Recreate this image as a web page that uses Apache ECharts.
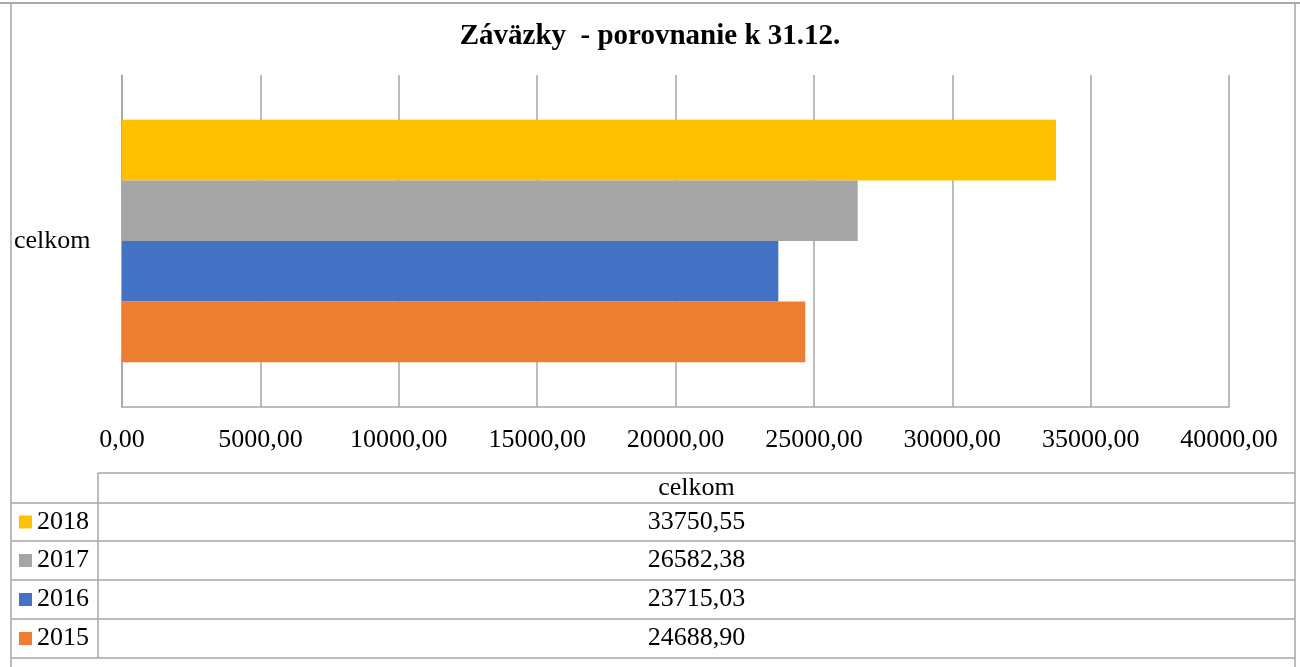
<!DOCTYPE html>
<html>
<head>
<meta charset="utf-8">
<title>Záväzky - porovnanie k 31.12.</title>
<script src="https://cdn.jsdelivr.net/npm/echarts@6/dist/echarts.min.js"></script>
<style>
  html, body { margin: 0; padding: 0; background: #fff; }
  #chart { width: 1300px; height: 667px; }
</style>
</head>
<body>
<div id="chart"></div>
<script>
  // data (top bar / top table row first)
  const categories = ['celkom']
  const years = ['2018', '2017', '2016', '2015']
  const values2018 = [33750.55]
  const values2017 = [26582.38]
  const values2016 = [23715.03]
  const values2015 = [24688.90]
  const axisMax = 40000
  const axisStep = 5000

  const seriesValues = [values2018, values2017, values2016, values2015]
  const colors = ['#FFC000', '#A5A5A5', '#4472C4', '#ED7D31']

  const font = "'Liberation Serif', 'Times New Roman', serif"
  const lineColor = '#a6a6a6'

  function fmt(v) {
    return v.toFixed(2).replace('.', ',')
  }

  // table layout (rows from top: header, 2018, 2017, 2016, 2015)
  const tableLeft = 11
  const tableRight = 1295
  const colSplit = 98
  const headerTop = 473
  const rowLines = [503, 541, 580, 619, 658]

  const graphics = []
  // outer frame
  graphics.push({ type: 'line', shape: { x1: 0, y1: 3, x2: 1300, y2: 3 }, style: { stroke: '#8c8c8c', lineWidth: 1.5 } })
  graphics.push({ type: 'line', shape: { x1: tableLeft, y1: 3, x2: tableLeft, y2: 667 }, style: { stroke: lineColor, lineWidth: 1.5 } })
  graphics.push({ type: 'line', shape: { x1: tableRight, y1: 3, x2: tableRight, y2: 667 }, style: { stroke: lineColor, lineWidth: 1.5 } })
  // table grid
  graphics.push({ type: 'line', shape: { x1: colSplit, y1: headerTop, x2: tableRight, y2: headerTop }, style: { stroke: lineColor, lineWidth: 1.5 } })
  graphics.push({ type: 'line', shape: { x1: colSplit, y1: headerTop, x2: colSplit, y2: rowLines[rowLines.length - 1] }, style: { stroke: lineColor, lineWidth: 1.5 } })
  rowLines.forEach(y => {
    graphics.push({ type: 'line', shape: { x1: tableLeft, y1: y, x2: tableRight, y2: y }, style: { stroke: lineColor, lineWidth: 1.5 } })
  })
  const cellCenter = (colSplit + tableRight) / 2
  graphics.push({
    type: 'text', x: cellCenter, y: (headerTop + rowLines[0]) / 2,
    style: { text: categories[0], font: '26px ' + font, fill: '#000', textAlign: 'center', textVerticalAlign: 'middle' }
  })
  seriesValues.forEach((vals, i) => {
    graphics.push({
      type: 'text', x: cellCenter, y: (rowLines[i] + rowLines[i + 1]) / 2,
      style: { text: fmt(vals[0]), font: '26px ' + font, fill: '#000', textAlign: 'center', textVerticalAlign: 'middle' }
    })
  })

  const legends = years.map((y, i) => ({
    data: [y],
    left: 19,
    top: (rowLines[i] + rowLines[i + 1]) / 2 - 13,
    padding: 0,
    icon: 'rect',
    itemWidth: 13,
    itemHeight: 13,
    selectedMode: false,
    textStyle: { fontFamily: font, fontSize: 26, color: '#000', lineHeight: 26 }
  }))

  const chart = echarts.init(document.getElementById('chart'), null, { renderer: 'canvas' })
  chart.setOption({
    animation: false,
    backgroundColor: '#fff',
    title: {
      text: 'Záväzky  - porovnanie k 31.12.',
      left: 'center',
      top: 22,
      padding: 0,
      textStyle: { fontFamily: font, fontSize: 29, fontWeight: 'bold', color: '#000' }
    },
    legend: legends,
    grid: { left: 122, right: 71, top: 75, bottom: 260, containLabel: false },
    xAxis: {
      type: 'value',
      min: 0,
      max: axisMax,
      interval: axisStep,
      axisLine: { show: true, lineStyle: { color: lineColor, width: 1.5 } },
      axisTick: { show: false },
      splitLine: { show: true, lineStyle: { color: lineColor, width: 1.5 } },
      axisLabel: {
        margin: 20,
        fontFamily: font,
        fontSize: 26,
        color: '#000',
        formatter: v => fmt(v)
      }
    },
    yAxis: {
      type: 'category',
      data: categories,
      axisLine: { show: true, lineStyle: { color: lineColor, width: 1.5 } },
      axisTick: { show: false },
      axisLabel: {
        margin: 108,
        align: 'left',
        fontFamily: font,
        fontSize: 26,
        color: '#000'
      }
    },
    graphic: graphics,
    series: years.map((y, i) => ({
      name: y,
      type: 'bar',
      data: seriesValues[i],
      barGap: '0%',
      barCategoryGap: '27%',
      itemStyle: { color: colors[i] }
    }))
  })
</script>
</body>
</html>
